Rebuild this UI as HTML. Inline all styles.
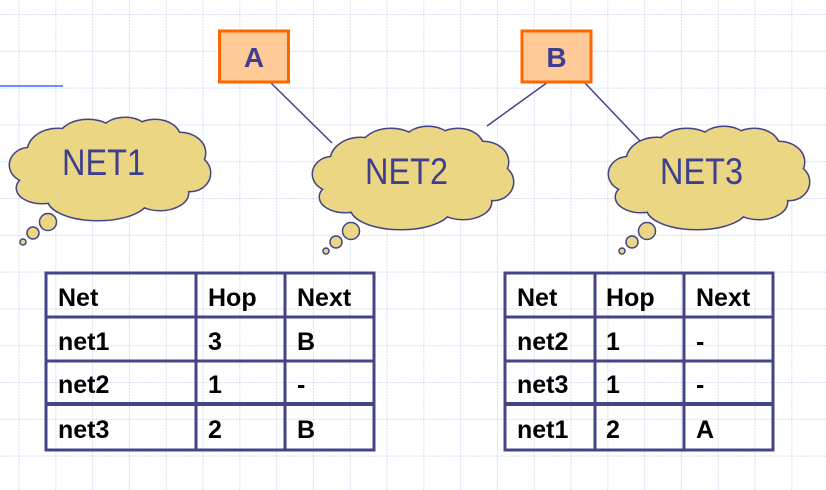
<!DOCTYPE html>
<html><head><meta charset="utf-8"><style>
html,body{margin:0;padding:0;background:#fff;}
svg{display:block;}
</style></head><body>
<svg width="826" height="490" viewBox="0 0 826 490" xmlns="http://www.w3.org/2000/svg">
<defs>
<pattern id="g" x="18.5" y="14" width="36.8" height="36.8" patternUnits="userSpaceOnUse">
<path d="M0 0H36.8M0 0V36.8" stroke="#d6def2" stroke-width="2" stroke-dasharray="2 1" fill="none"/>
</pattern>
<g id="bumps">
<ellipse cx="20" cy="48" rx="20" ry="17"/>
<ellipse cx="32" cy="71" rx="25" ry="15"/>
<ellipse cx="88" cy="82" rx="50" ry="21"/>
<ellipse cx="150" cy="76" rx="28" ry="17"/>
<ellipse cx="180" cy="56" rx="20" ry="18"/>
<ellipse cx="170" cy="36" rx="25" ry="20"/>
<ellipse cx="78" cy="23" rx="30" ry="20"/>
<ellipse cx="115" cy="18" rx="25" ry="17"/>
<ellipse cx="145" cy="21" rx="25" ry="18"/>
<ellipse cx="48" cy="34" rx="30" ry="22"/>
<ellipse cx="100" cy="52" rx="80" ry="38"/>
</g>
<g id="cloud">
<use href="#bumps" fill="#ead683" stroke="#444488" stroke-width="3"/>
<use href="#bumps" fill="#ead683"/>
<g fill="#ead683" stroke="#444488" stroke-width="1.5">
<circle cx="38" cy="105" r="8.5"/>
<circle cx="23" cy="116" r="6"/>
<circle cx="13" cy="125" r="3"/>
</g>
</g>
</defs>
<rect width="826" height="490" fill="url(#g)"/>
<line x1="0" y1="86" x2="63" y2="86" stroke="#6f8fff" stroke-width="2"/>
<g stroke="#444488" stroke-width="1.5">
<line x1="270" y1="82" x2="332" y2="143"/>
<line x1="548" y1="82" x2="487" y2="126"/>
<line x1="584" y1="82" x2="642" y2="143"/>
</g>
<rect x="219.5" y="31" width="69" height="51" fill="#fecb98" stroke="#ff6600" stroke-width="3"/>
<rect x="522" y="31" width="69" height="51" fill="#fecb98" stroke="#ff6600" stroke-width="3"/>
<g font-family="Liberation Sans, sans-serif" font-weight="bold" font-size="28" fill="#3f3f8f" text-anchor="middle">
<text x="254" y="67">A</text><text x="556.5" y="67">B</text>
</g>
<use href="#cloud" transform="translate(10 117)"/>
<use href="#cloud" transform="translate(313 126)"/>
<use href="#cloud" transform="translate(609 126)"/>
<g font-family="Liberation Sans, sans-serif" font-size="37" fill="#3f3f8f">
<text x="62" y="175" textLength="83" lengthAdjust="spacingAndGlyphs">NET1</text>
<text x="365" y="184" textLength="83" lengthAdjust="spacingAndGlyphs">NET2</text>
<text x="660" y="184" textLength="83" lengthAdjust="spacingAndGlyphs">NET3</text>
</g>
<g fill="none" stroke="#444488" stroke-width="3">
<rect x="46" y="273" width="328" height="177"/>
<line x1="46" y1="317" x2="374" y2="317"/>
<line x1="46" y1="361" x2="374" y2="361"/>
<line x1="46" y1="404" x2="374" y2="404" stroke-width="4"/>
<line x1="196" y1="273" x2="196" y2="450"/>
<line x1="285" y1="273" x2="285" y2="450"/>
<rect x="505" y="273" width="268" height="177"/>
<line x1="505" y1="317" x2="773" y2="317"/>
<line x1="505" y1="361" x2="773" y2="361"/>
<line x1="505" y1="404" x2="773" y2="404" stroke-width="4"/>
<line x1="595" y1="273" x2="595" y2="450"/>
<line x1="684" y1="273" x2="684" y2="450"/>
</g>
<g font-family="Liberation Sans, sans-serif" font-weight="bold" font-size="25" fill="#000">
<text x="58" y="306">Net</text><text x="208" y="306">Hop</text><text x="297" y="306">Next</text>
<text x="58" y="350">net1</text><text x="208" y="350">3</text><text x="297" y="350">B</text>
<text x="58" y="393">net2</text><text x="208" y="393">1</text><text x="297" y="393">-</text>
<text x="58" y="438">net3</text><text x="208" y="438">2</text><text x="297" y="438">B</text>
<text x="517" y="306">Net</text><text x="606" y="306">Hop</text><text x="696" y="306">Next</text>
<text x="517" y="350">net2</text><text x="606" y="350">1</text><text x="696" y="350">-</text>
<text x="517" y="393">net3</text><text x="606" y="393">1</text><text x="696" y="393">-</text>
<text x="517" y="438">net1</text><text x="606" y="438">2</text><text x="696" y="438">A</text>
</g>
</svg>
</body></html>
